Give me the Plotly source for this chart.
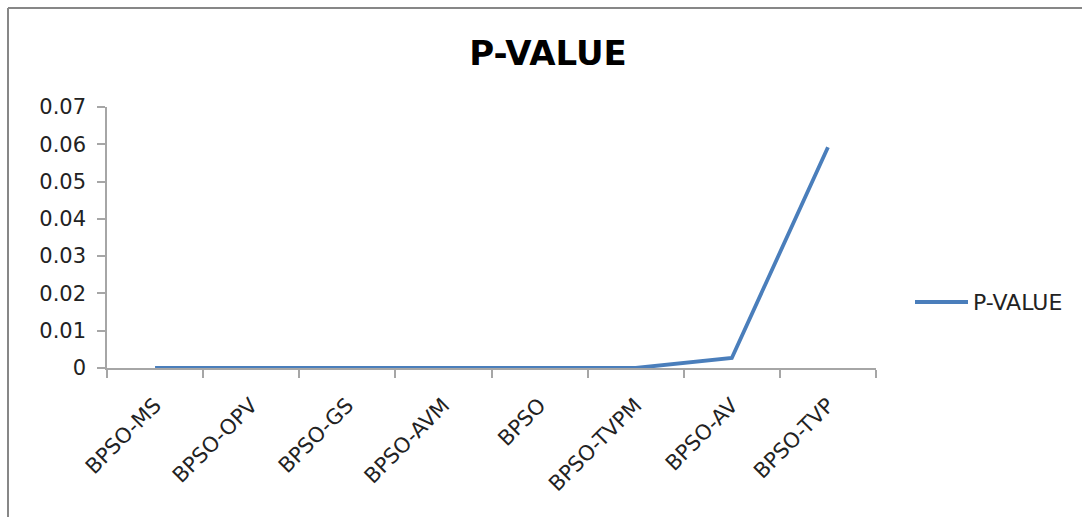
import plotly.graph_objects as go

# P-values of each BPSO variant
variants = ["BPSO-MS", "BPSO-OPV", "BPSO-GS", "BPSO-AVM", "BPSO",
            "BPSO-TVPM", "BPSO-AV", "BPSO-TVP"]
p_values = [0.0, 0.0, 0.0, 0.0, 0.0, 0.0, 0.0027, 0.0592]
y_ticks = [0, 0.01, 0.02, 0.03, 0.04, 0.05, 0.06, 0.07]
y_tick_text = ["0", "0.01", "0.02", "0.03", "0.04", "0.05", "0.06", "0.07"]
series_name = "P-VALUE"

W, H = 1082, 517
L, R, T, B = 107, 206, 107, 149
pw, ph = W - L - R, H - T - B

font = "DejaVu Sans"
axis_grey = "#a6a6a6"
line_blue = "#4a7ebb"

fig = go.Figure()
fig.add_trace(go.Scatter(
    x=variants, y=p_values, mode="lines", name=series_name,
    line=dict(color=line_blue, width=3.8), showlegend=False,
))

def px_x(p):
    return (p - L) / pw

def px_y(p):
    return (H - B - p) / ph

fig.update_layout(
    width=W, height=H,
    margin=dict(l=L, r=R, t=T, b=B),
    paper_bgcolor="white", plot_bgcolor="white",
    title=dict(text="<b>P-VALUE</b>", x=548 / W, xref="container", xanchor="center",
               y=1 - 53 / H, yref="container", yanchor="middle",
               font=dict(family=font, size=34, color="#000000")),
    xaxis=dict(
        type="category", range=[-0.5, 7.5], tickson="boundaries",
        showgrid=False, zeroline=False, showline=True, linecolor=axis_grey, linewidth=1.5,
        ticks="outside", ticklen=8, tickcolor=axis_grey, tickwidth=1.5,
        tickangle=-45, tickfont=dict(family=font, size=21, color="#222222"),
        ticklabelstandoff=15,
    ),
    yaxis=dict(
        range=[0, 0.07], tickvals=y_ticks, ticktext=y_tick_text,
        showgrid=False, zeroline=False, showline=True, linecolor=axis_grey, linewidth=1.5,
        ticks="outside", ticklen=8, tickcolor=axis_grey, tickwidth=1.5,
        tickfont=dict(family=font, size=21, color="#222222"),
        ticklabelstandoff=7,
    ),
    shapes=[
        # outer frame (top and left edges)
        dict(type="line", xref="paper", yref="paper",
             x0=px_x(8), x1=px_x(W + 2), y0=px_y(8), y1=px_y(8),
             line=dict(color="#878787", width=2)),
        dict(type="line", xref="paper", yref="paper",
             x0=px_x(8), x1=px_x(8), y0=px_y(8), y1=px_y(H + 2),
             line=dict(color="#878787", width=2)),
        # legend key
        dict(type="line", xref="paper", yref="paper",
             x0=px_x(915), x1=px_x(968), y0=px_y(302), y1=px_y(302),
             line=dict(color=line_blue, width=4)),
    ],
    annotations=[
        dict(text=series_name, xref="paper", yref="paper",
             x=px_x(971), y=px_y(302), xanchor="left", yanchor="middle",
             showarrow=False, font=dict(family=font, size=22, color="#222222")),
    ],
)

fig.write_html("out.html")
